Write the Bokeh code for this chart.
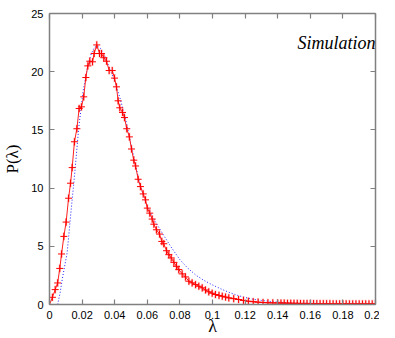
import math
from bokeh.plotting import figure
from bokeh.models import Label, LinearAxis, Range1d, FixedTicker, ColumnDataSource
from bokeh.embed import file_html
from bokeh.resources import INLINE

# Simulation histogram (red crosses + line)
sim_x = [0.0, 0.0018, 0.0035, 0.005, 0.0063, 0.0074, 0.0088, 0.0102, 0.0117, 0.0129,
         0.0139, 0.0153, 0.0168, 0.0182, 0.0196, 0.021, 0.0223, 0.0235, 0.0247, 0.0264,
         0.0274, 0.029, 0.0307, 0.0319, 0.0333, 0.035, 0.0366, 0.0385, 0.0399, 0.0411,
         0.0421, 0.0431, 0.0448, 0.046, 0.0474, 0.049, 0.0503, 0.0517, 0.0528, 0.0544,
         0.0558, 0.0575, 0.0589, 0.06, 0.0615, 0.063, 0.064, 0.0656, 0.0675, 0.0689,
         0.0701, 0.0718, 0.0732, 0.0747, 0.0763, 0.0779, 0.0793, 0.0814, 0.0834, 0.0855,
         0.0875, 0.0896, 0.0916, 0.0937, 0.0957, 0.0977, 0.0998, 0.1018, 0.104, 0.106,
         0.108, 0.11, 0.113, 0.116, 0.119, 0.122, 0.125, 0.128, 0.131, 0.134,
         0.137, 0.14, 0.142, 0.144, 0.146, 0.148, 0.15, 0.152, 0.154, 0.156,
         0.158, 0.16, 0.162, 0.164, 0.166, 0.168, 0.17, 0.172, 0.174, 0.176,
         0.178, 0.18, 0.182, 0.184, 0.186, 0.188, 0.19, 0.192, 0.194, 0.196,
         0.198, 0.2]
sim_y = [0.0, 0.62, 1.28, 1.85, 3.1, 4.34, 5.85, 7.08, 9.13, 10.42,
         11.76, 13.98, 15.1, 16.84, 16.98, 17.84, 19.5, 20.5, 20.9, 20.85,
         21.56, 22.3, 21.56, 21.56, 21.2, 20.9, 20.1, 20.1, 19.45, 18.7,
         17.5, 16.9, 16.5, 16.06, 15.1, 14.4, 13.36, 12.4, 11.9, 10.76,
         10.13, 9.5, 8.99, 8.28, 7.85, 7.34, 6.9, 6.42, 6.05, 5.42,
         5.22, 4.62, 4.28, 4.0, 3.62, 3.28, 3.0, 2.63, 2.37, 2.0,
         1.86, 1.71, 1.57, 1.43, 1.25, 1.09, 0.97, 0.86, 0.78, 0.71,
         0.64, 0.57, 0.5, 0.43, 0.35, 0.28, 0.24, 0.2, 0.17, 0.15,
         0.14, 0.13, 0.12, 0.12, 0.11, 0.11, 0.1, 0.1, 0.09, 0.09,
         0.09, 0.08, 0.08, 0.08, 0.07, 0.07, 0.07, 0.07, 0.06, 0.06,
         0.06, 0.06, 0.06, 0.05, 0.05, 0.05, 0.05, 0.05, 0.05, 0.05,
         0.05, 0.05]

# Theoretical curve (blue dotted)
th_x = [0.005, 0.0065, 0.0078, 0.0093, 0.0108, 0.0118, 0.0129, 0.0139, 0.0149, 0.016,
        0.018, 0.0207, 0.0235, 0.0255, 0.0276, 0.0295, 0.0313, 0.0335, 0.0354, 0.038,
        0.0405, 0.0435, 0.0466, 0.049, 0.0517, 0.055, 0.058, 0.06, 0.065, 0.07,
        0.075, 0.08, 0.085, 0.09, 0.095, 0.1, 0.105, 0.11, 0.115, 0.12,
        0.125, 0.13, 0.135, 0.14, 0.15, 0.16, 0.17, 0.18, 0.19, 0.2]
th_y = [0.0, 1.0, 2.14, 3.3, 4.42, 5.9, 7.56, 9.0, 10.4, 12.1,
        15.27, 18.4, 20.5, 21.5, 22.1, 22.2, 22.0, 21.5, 20.8, 19.9,
        19.0, 17.6, 16.0, 14.4, 12.7, 10.6, 9.2, 8.4, 7.1, 5.95,
        4.85, 3.85, 3.1, 2.5, 2.05, 1.68, 1.35, 1.05, 0.8, 0.6,
        0.45, 0.35, 0.27, 0.2, 0.14, 0.1, 0.08, 0.06, 0.05, 0.04]

x_ticks = [0, 0.02, 0.04, 0.06, 0.08, 0.1, 0.12, 0.14, 0.16, 0.18, 0.2]
x_tick_labels = ["0", "0.02", "0.04", "0.06", "0.08", "0.1", "0.12", "0.14", "0.16", "0.18", "0.2"]
y_ticks = [0, 5, 10, 15, 20, 25]

p = figure(width=379, height=338, output_backend="svg", toolbar_location=None,
           x_range=Range1d(0, 0.2), y_range=Range1d(0, 25),
           min_border_left=49, min_border_right=4, min_border_top=13, min_border_bottom=33,
           x_axis_location=None, y_axis_location=None)
p.grid.visible = False
p.outline_line_color = None
p.background_fill_color = "white"
p.border_fill_color = "white"

axis_col = "#808080"

def style(ax):
    ax.axis_line_color = axis_col
    ax.axis_line_width = 1.5
    ax.major_tick_line_color = axis_col
    ax.major_tick_line_width = 1.2
    ax.major_tick_in = 5
    ax.major_tick_out = 0
    ax.minor_tick_line_color = None
    ax.major_label_text_font = "Liberation Sans"
    ax.major_label_text_font_size = "11px"
    ax.major_label_text_color = "black"
    ax.major_label_standoff = 6
    ax.axis_label_text_font = "Liberation Serif"
    ax.axis_label_text_font_style = "normal"
    ax.axis_label_text_color = "black"

bx = LinearAxis(ticker=FixedTicker(ticks=x_ticks), axis_label="λ")
bx.major_label_overrides = {t: l for t, l in zip(x_ticks, x_tick_labels)}
style(bx)
bx.axis_label_text_font_size = "18px"
bx.axis_label_standoff = -6
p.add_layout(bx, "below")

tx = LinearAxis(ticker=FixedTicker(ticks=x_ticks))
style(tx)
tx.major_label_overrides = {t: "" for t in x_ticks}
tx.major_label_standoff = 0
p.add_layout(tx, "above")

ly = LinearAxis(ticker=FixedTicker(ticks=y_ticks), axis_label="P(λ)")
style(ly)
ly.axis_label_text_font_size = "17px"
ly.axis_label_standoff = 6
p.add_layout(ly, "left")

ry = LinearAxis(ticker=FixedTicker(ticks=y_ticks))
style(ry)
ry.major_label_overrides = {t: "" for t in y_ticks}
ry.major_label_standoff = 0
p.add_layout(ry, "right")

# theoretical curve
p.line(th_x, th_y, line_color="#2020ff", line_width=1, line_dash="1 2")

# error bars (light)
src = ColumnDataSource(dict(x=sim_x, lo=[max(v - 0.35, 0) for v in sim_y], hi=[v + 0.35 for v in sim_y]))
p.segment(x0="x", y0="lo", x1="x", y1="hi", source=src, line_color="#ff9090", line_alpha=0.6, line_width=2)

# simulation
p.line(sim_x, sim_y, line_color="#ff2020", line_width=1)
p.scatter(sim_x, sim_y, marker="cross", size=7, line_color="#ff0000", line_width=1)

p.add_layout(Label(x=0.2, y=22.5, text="Simulation", text_align="right", text_baseline="alphabetic",
                   text_font="Liberation Serif", text_font_style="italic", text_font_size="18px",
                   text_color="black"))

open("out.html", "w").write(file_html(p, INLINE))
